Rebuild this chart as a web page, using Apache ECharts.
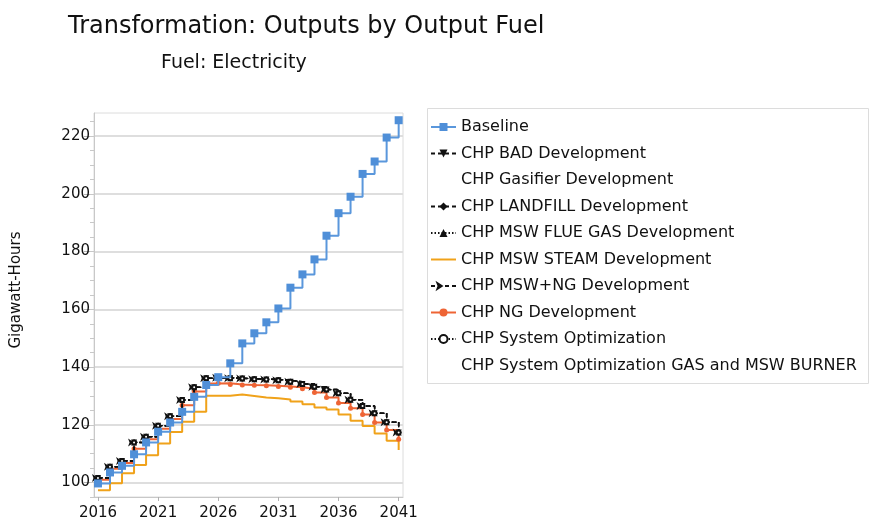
<!DOCTYPE html>
<html><head><meta charset="utf-8">
<script src="https://cdn.jsdelivr.net/npm/echarts@6/dist/echarts.min.js"></script>
<style>html,body{margin:0;padding:0;background:#fff}#c{width:869px;height:528px}</style>
</head><body><div id="c"></div>
<script>
const years = [2016,2017,2018,2019,2020,2021,2022,2023,2024,2025,2026,2027,2028,2029,2030,2031,2032,2033,2034,2035,2036,2037,2038,2039,2040,2041];
const baseline = [99.7,103.5,105.8,109.8,113.9,117.6,120.8,124.5,129.7,133.8,136.5,141.3,148.2,151.7,155.5,160.3,167.5,172.1,177.3,185.5,193.3,199.0,206.9,211.2,219.5,225.5];
const chpBad = [101.6,105.5,107.5,113.9,115.9,119.7,123.0,128.6,133.0,136.1,136.3,136.1,136.0,135.8,135.7,135.4,134.9,134.1,133.2,132.2,130.9,128.7,126.5,124.0,120.9,117.3];
const chpGasifier = [];
const chpLandfill = [101.6,105.5,107.5,113.9,115.9,119.7,123.0,128.6,133.0,136.1,136.3,136.1,136.0,135.8,135.7,135.4,134.9,134.1,133.2,132.2,130.9,128.7,126.5,124.0,120.9,117.3];
const chpFlueGas = [101.6,105.5,107.5,113.9,115.9,119.7,123.0,128.6,133.0,136.1,136.3,136.1,136.0,135.8,135.7,135.4,134.9,134.1,133.2,132.2,130.9,128.7,126.5,124.0,120.9,117.3];
const chpSteam = [97.3,99.8,103.2,106.1,109.5,113.5,117.5,121.1,124.5,130.1,130.1,130.5,130.0,129.5,129.2,128.8,128.1,127.1,126.0,125.3,123.6,121.4,119.6,117.0,114.5,111.3];
const chpMswNg = [101.6,105.5,107.5,113.9,115.9,119.7,123.0,128.6,133.0,136.1,136.3,136.1,136.0,135.8,135.7,135.4,134.9,134.1,133.2,132.2,130.9,128.7,126.5,124.0,120.9,117.3];
const chpNg = [101.0,104.8,106.8,111.7,115.0,118.6,122.0,126.8,131.5,134.3,134.4,134.0,133.8,133.7,133.5,133.3,133.0,132.5,131.2,129.5,127.6,125.7,123.6,120.8,118.2,115.0];
const chpSysOpt = [101.6,105.5,107.5,113.9,115.9,119.7,123.0,128.6,133.0,136.1,136.3,136.1,136.0,135.8,135.7,135.4,134.9,134.1,133.2,132.2,130.9,128.7,126.5,124.0,120.9,117.3];
const chpSysOptGas = [];
const xTickLabels = [2016,2021,2026,2031,2036,2041];
const yTickLabels = [100,120,140,160,180,200,220];
const yMinorTicks = [95,100,105,110,115,120,125,130,135,140,145,150,155,160,165,170,175,180,185,190,195,200,205,210,215,220,225];

const FONT = '"DejaVu Sans",sans-serif';
function pairs(vals){ return vals.map((v,i)=>[years[i], v]); }

const chart = echarts.init(document.getElementById('c'), null, {renderer:'canvas'});

function mk(name, vals, o){
  return Object.assign({
    name, type:'line', step:'end', data: pairs(vals), animation:false,
    showAllSymbol:true
  }, o);
}
const black = '#111';
const series = [
  mk('Baseline', baseline, {z:5, symbol:'rect', symbolSize:8, color:'#4f8fd8', lineStyle:{width:2,color:'#5a97dc'}, itemStyle:{color:'#4f8fd8'}}),
  mk('CHP BAD Development', chpBad, {z:4, symbol:'triangle', symbolRotate:180, symbolSize:6, color:black, lineStyle:{width:1.5,type:[4,3],color:black}}),
  mk('CHP Gasifier Development', chpGasifier, {symbol:'none', color:'rgba(0,0,0,0)', lineStyle:{width:0,color:'rgba(0,0,0,0)'}}),
  mk('CHP LANDFILL Development', chpLandfill, {z:4, symbol:'diamond', symbolSize:6, color:black, lineStyle:{width:1.5,type:[4,3],color:black}}),
  mk('CHP MSW FLUE GAS Development', chpFlueGas, {z:4, symbol:'triangle', symbolSize:6, color:black, lineStyle:{width:1.2,type:[1.5,2],color:black}}),
  mk('CHP MSW STEAM Development', chpSteam, {z:2, symbol:'none', color:'#f0a21a', lineStyle:{width:2,color:'#f0a21a'}}),
  mk('CHP MSW+NG Development', chpMswNg, {z:4, symbol:'arrow', symbolRotate:-90, symbolSize:6, color:black, lineStyle:{width:1.5,type:[4,3],color:black}}),
  mk('CHP NG Development', chpNg, {z:3, symbol:'circle', symbolSize:5, color:'#ee6435', lineStyle:{width:2,color:'#ee6435'}, itemStyle:{color:'#ee6435'}}),
  mk('CHP System Optimization', chpSysOpt, {z:4, symbol:'emptyCircle', symbolSize:4, color:black, lineStyle:{width:1.2,type:[1.5,2],color:black}, itemStyle:{color:black, borderColor:black}}),
  mk('CHP System Optimization GAS and MSW BURNER', chpSysOptGas, {symbol:'none', color:'rgba(0,0,0,0)', lineStyle:{width:0,color:'rgba(0,0,0,0)'}})
];

const legendData = series.map(s => {
  if (s.symbol === 'none') return {name: s.name, itemStyle: {opacity: 0}};
  return {name: s.name};
});

chart.setOption({
  backgroundColor:'#fff',
  animation:false,
  textStyle:{fontFamily:FONT},
  title:[
    {text:'Transformation: Outputs by Output Fuel', left:68, top:15, padding:0, textStyle:{fontFamily:FONT, fontSize:24, fontWeight:'normal', color:'#111'}},
    {text:'Fuel: Electricity', left:161, top:54, padding:0, textStyle:{fontFamily:FONT, fontSize:19, fontWeight:'normal', color:'#111'}}
  ],
  graphic:[{type:'rect', shape:{x:427.5, y:108.5, width:441, height:275}, style:{fill:'none', stroke:'#dcdcdc', lineWidth:1}, silent:true}],
  legend:{
    orient:'vertical', left:430, top:119, padding:0,
    itemWidth:25, itemHeight:10, itemGap:10.5,
    textStyle:{fontFamily:FONT, fontSize:16, color:'#111', lineHeight:16},
    data: legendData
  },
  grid:{left:94, right:466, top:113, bottom:31, show:true, borderColor:'#dcdcdc', borderWidth:1, containLabel:false},
  xAxis:{
    type:'value', min:2015.67, max:2041.36,
    axisLine:{show:true, lineStyle:{color:'#c8c8c8', width:1}},
    axisTick:{show:true, customValues:xTickLabels, length:4, lineStyle:{color:'#b0b0b0'}},
    axisLabel:{customValues:xTickLabels, formatter:v=>String(v), fontFamily:FONT, fontSize:15, color:'#111', margin:9},
    splitLine:{show:false}
  },
  yAxis:[
    {
      type:'value', min:95, max:228, name:'Gigawatt-Hours', nameLocation:'middle', nameGap:70, nameRotate:90,
      nameTextStyle:{fontFamily:FONT, fontSize:15, color:'#111', padding:[0,0,0,30]},
      axisLine:{show:true, lineStyle:{color:'#c8c8c8', width:1}},
      axisTick:{show:true, customValues:yTickLabels, length:10, lineStyle:{color:'#b0b0b0'}},
      axisLabel:{customValues:yTickLabels, fontFamily:FONT, fontSize:15, color:'#111', margin:4},
      splitLine:{show:true, lineStyle:{color:'#dedede', width:2}}
    },
    {
      type:'value', min:95, max:228, position:'left',
      axisLine:{show:false},
      axisTick:{show:true, customValues:yMinorTicks, length:4, lineStyle:{color:'#c8c8c8'}},
      axisLabel:{show:false},
      splitLine:{show:false}
    }
  ],
  series: series
});
</script></body></html>
